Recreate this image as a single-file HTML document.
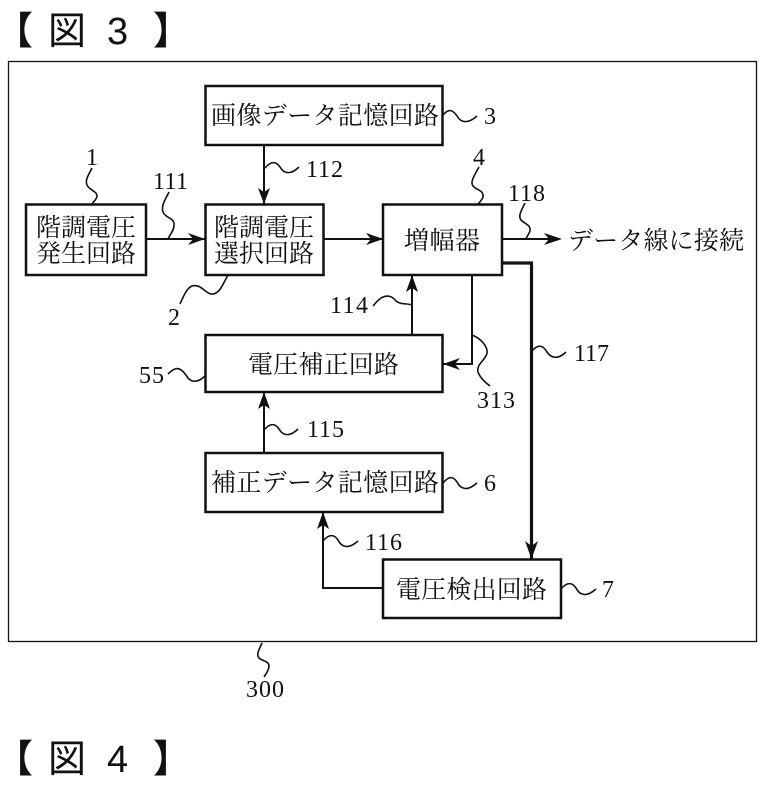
<!DOCTYPE html>
<html lang="ja">
<head>
<meta charset="utf-8">
<style>
html,body{margin:0;padding:0;background:#fff;width:762px;height:789px;overflow:hidden}
svg{display:block}
.j{font-family:"Liberation Serif","Noto Serif CJK SC","Noto Sans CJK JP",serif;font-size:25px;fill:#111}
.n{font-family:"Liberation Serif",serif;font-size:24px;fill:#111}
.h{font-family:"Liberation Sans","Noto Sans CJK JP",sans-serif;font-size:38px;fill:#111}
.b{fill:#fff;stroke:#111;stroke-width:2.5}
.l{fill:none;stroke:#111;stroke-width:2}
.w{fill:none;stroke:#111;stroke-width:1.6}
.a{fill:#111;stroke:none}
</style>
</head>
<body>
<svg width="762" height="789" viewBox="0 0 762 789" xmlns="http://www.w3.org/2000/svg">
<text class="h" x="-5" y="44" font-weight="bold">【</text>
<text class="h" x="48" y="44">図</text>
<text class="h" x="107" y="44">3</text>
<text class="h" x="153" y="44" font-weight="bold">】</text>

<rect x="8.5" y="61.5" width="748" height="580" fill="#fff" stroke="#111" stroke-width="1.3"/>

<path class="l" d="M264 145V204"/>
<path class="l" d="M146 239H205"/>
<path class="l" d="M323 239H383"/>
<path class="l" d="M502 239H555"/>
<path class="l" d="M412 335V275"/>
<path class="l" d="M472 275V364H443"/>
<path class="l" d="M264 453V392"/>
<path class="l" d="M383 588H323V512"/>
<path fill="none" stroke="#111" stroke-width="3.2" d="M502 263H531.5V559"/>

<path class="a" d="M264 204L258 188L264 192L270 188Z"/>
<path class="a" d="M205 239L188 233L193 239L188 245Z"/>
<path class="a" d="M383 239L366 233L371 239L366 245Z"/>
<path class="a" d="M562 239L544 233L549 239L544 245Z"/>
<path class="a" d="M412 275L406 292L412 288L418 292Z"/>
<path class="a" d="M443 364L460 358L455 364L460 370Z"/>
<path class="a" d="M264 392L258 409L264 405L270 409Z"/>
<path class="a" d="M323 512L317 529L323 525L329 529Z"/>
<path class="a" d="M531.5 559L525 541L531.5 546L538 541Z"/>

<rect class="b" x="205.5" y="86" width="237" height="59" stroke-width="3"/>
<rect class="b" x="26" y="204.500" width="120" height="70.500"/>
<rect class="b" x="205.500" y="204.500" width="118" height="70.500"/>
<rect class="b" x="383" y="204.500" width="119" height="70.500"/>
<rect class="b" x="205.500" y="335" width="237" height="57"/>
<rect class="b" x="205.500" y="453" width="237" height="59"/>
<rect class="b" x="383" y="559.500" width="178" height="58.500"/>

<text class="j" x="211" y="124" textLength="228">画像データ記憶回路</text>
<text class="j" x="36" y="236" textLength="100">階調電圧</text>
<text class="j" x="36" y="262" textLength="100">発生回路</text>
<text class="j" x="214" y="236" textLength="100">階調電圧</text>
<text class="j" x="214" y="262" textLength="100">選択回路</text>
<text class="j" x="404" y="249" textLength="76">増幅器</text>
<text class="j" x="248" y="373" textLength="151">電圧補正回路</text>
<text class="j" x="211" y="491" textLength="228">補正データ記憶回路</text>
<text class="j" x="396" y="598" textLength="151">電圧検出回路</text>
<text class="j" x="568" y="249" textLength="176">データ線に接続</text>

<path class="w" d="M443 115C449 108 453 110 457 116C461 123 468 124 477 116"/>
<path class="w" d="M265 168C271 161 276 161 280 167C284 174 291 175 299 167"/>
<path class="w" d="M92 168C88 176 85 180 87 185C89 190 97 191 97 196C97 199 94 201 92 204"/>
<path class="w" d="M169 192C165 200 161 206 163 212C165 218 175 218 174 225C174 231 170 234 168 239"/>
<path class="w" d="M228 275C223 284 220 293 213 294C206 295 201 283 192 286C187 288 184 295 180 304"/>
<path class="w" d="M479 167C474 176 470 182 473 186C476 190 484 190 483 197C482 200 480 202 478 204"/>
<path class="w" d="M525 203C521 211 518 216 521 220C525 224 531 225 530 231C529 234 527 236 526 239"/>
<path class="w" d="M412 306C406 304 401 306 396 302C392 297 388 296 383 298C378 300 376 304 373 307" transform="translate(0,-1)"/>
<path class="w" d="M472 335C480 338 488 346 487 353C486 360 476 364 478 372C480 378 486 383 490 386"/>
<path class="w" d="M532 351C538 344 543 345 547 352C551 358 558 360 566 352"/>
<path class="w" d="M205 376C199 382 192 383 188 378C184 372 180 367 175 369C172 370 170 372 168 374"/>
<path class="w" d="M264 430C270 423 275 423 279 429C283 436 290 437 298 429"/>
<path class="w" d="M443 483C449 476 453 476 457 482C461 490 468 491 477 483"/>
<path class="w" d="M323 541C329 534 334 534 338 540C342 548 349 549 358 541"/>
<path class="w" d="M561 589C567 582 572 582 576 588C580 596 587 597 596 589"/>
<path class="w" d="M262 643C259 650 256 654 259 658C262 661 269 661 269 666C269 670 266 674 264 677"/>

<text class="n" x="306" y="177" textLength="37">112</text>
<text class="n" x="484" y="124">3</text>
<text class="n" x="86" y="165">1</text>
<text class="n" x="153" y="189" textLength="35">111</text>
<text class="n" x="168" y="325">2</text>
<text class="n" x="473" y="165">4</text>
<text class="n" x="508" y="201" textLength="37">118</text>
<text class="n" x="330" y="313" textLength="38">114</text>
<text class="n" x="574" y="361" textLength="35">117</text>
<text class="n" x="139" y="383" textLength="25">55</text>
<text class="n" x="477" y="408" textLength="38">313</text>
<text class="n" x="307" y="437" textLength="37">115</text>
<text class="n" x="484" y="491">6</text>
<text class="n" x="365" y="550" textLength="37">116</text>
<text class="n" x="602" y="597">7</text>
<text class="n" x="246" y="697" textLength="38">300</text>

<text class="h" x="-5" y="772" font-weight="bold">【</text>
<text class="h" x="48" y="772">図</text>
<text class="h" x="107" y="772">4</text>
<text class="h" x="153" y="772" font-weight="bold">】</text>
</svg>
</body>
</html>
